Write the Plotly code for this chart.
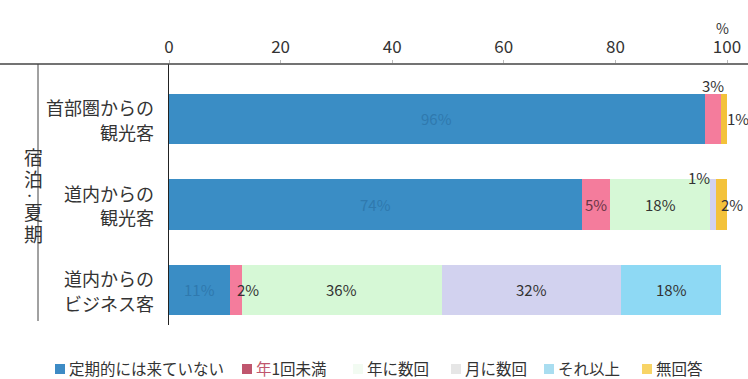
import plotly.graph_objects as go

# Survey: how often visitors come (stay, summer season)
categories = ["首部圏からの観光客", "道内からの観光客", "道内からのビジネス客"]
cat_lines = [["首部圏からの", "観光客"], ["道内からの", "観光客"], ["道内からの", "ビジネス客"]]
series_names = ["定期的には来ていない", "年1回未満", "年に数回", "月に数回", "それ以上", "無回答"]
v_none = [96, 74, 11]
v_less_yearly = [3, 5, 2]
v_few_yearly = [0, 18, 36]
v_few_monthly = [0, 1, 32]
v_more = [0, 0, 18]
v_no_answer = [1, 2, 0]
x_ticks = [0, 20, 40, 60, 80, 100]
group_label = "宿泊・夏期"

values = [v_none, v_less_yearly, v_few_yearly, v_few_monthly, v_more, v_no_answer]
colors = ["#3a8dc5", "#f47c9c", "#d6f8d6", "#d2d2ef", "#8ed9f4", "#f3c23a"]
legend_colors = ["#3d8bc5", "#c0566e", "#f2fbf2", "#e6e6e6", "#a9ddf0", "#f8d466"]

FONT = "Noto Sans CJK JP"
W, H = 748, 379
ML, MR, MT, MB = 169, 21, 64, 54
PW, PH = W - ML - MR, H - MT - MB


def px_x(p):
    return (p - ML) / PW


def px_y(p):
    return (H - MB - p) / PH


fig = go.Figure()
for name, vals, col in zip(series_names, values, colors):
    fig.add_trace(go.Bar(
        y=categories, x=vals, name=name, orientation="h",
        marker=dict(color=col, line=dict(width=0)),
        width=0.59, showlegend=False,
    ))

ann = []


def seg_start(ci, si):
    return sum(values[k][ci] for k in range(si))


label_style = dict(size=15, color="#333333", family=FONT)
hidden_style = dict(size=15, color="#2f79ae", family=FONT)
for ci, cat in enumerate(categories):
    for si in range(len(series_names)):
        v = values[si][ci]
        if v < 5:
            continue
        mid = seg_start(ci, si) + v / 2
        txt = f"{v}%"
        if si == 0:
            ann.append(dict(x=mid, y=cat, text=txt, showarrow=False, font=hidden_style))
        else:
            ann.append(dict(x=mid, y=cat, text=txt, showarrow=False,
                            font=dict(size=15, color="#6a3545" if si == 1 else "#333333", family=FONT)))

# small segments labelled outside
ann.append(dict(x=seg_start(0, 1) + v_less_yearly[0] / 2, y=0, yshift=33, text=f"{v_less_yearly[0]}%",
                showarrow=False, font=label_style))
ann.append(dict(x=100, y=0, xanchor="left", xshift=-2, text=f"{v_no_answer[0]}%",
                showarrow=False, font=label_style))
ann.append(dict(x=seg_start(1, 3), y=1, yshift=27, xanchor="right", xshift=2, text=f"{v_few_monthly[1]}%",
                showarrow=False, font=label_style))
ann.append(dict(x=100, y=1, xanchor="left", xshift=-8, text=f"{v_no_answer[1]}%",
                showarrow=False, font=label_style))
ann.append(dict(x=seg_start(2, 1), y=2, xanchor="left", xshift=5, text=f"{v_less_yearly[2]}%",
                showarrow=False, font=label_style))

# category labels, two right-aligned lines each
for ci, lines in enumerate(cat_lines):
    for k, off in enumerate((-0.135, 0.148)):
        ann.append(dict(x=px_x(156), xref="paper", y=ci + off, yref="y", text=lines[k],
                        xanchor="right", yanchor="middle", showarrow=False,
                        font=dict(size=18, color="#333333", family=FONT)))

# group label, written vertically one character at a time
for ch, cy in zip(group_label, (156, 178, 195, 211, 233)):
    ann.append(dict(x=px_x(22), xref="paper", y=px_y(cy), yref="paper", text=ch,
                    showarrow=False, yanchor="middle",
                    font=dict(size=19 if ch != "・" else 11, color="#333333", family=FONT)))

# unit label
ann.append(dict(x=px_x(731), xref="paper", y=px_y(28), yref="paper", text="%", yanchor="middle",
                showarrow=False, font=dict(size=14, color="#333333", family=FONT)))

# legend
legend_x = [55, 242, 353, 451, 544, 642]
legend_texts = [series_names[0], "<span style='color:#c0566e'>年</span>1回未満"] + series_names[2:]
shapes = []
ly = 368
for lx, txt, col in zip(legend_x, legend_texts, legend_colors):
    shapes.append(dict(type="rect", xref="paper", yref="paper",
                       x0=px_x(lx), x1=px_x(lx + 10), y0=px_y(ly + 6), y1=px_y(ly - 4),
                       fillcolor=col, line=dict(width=0)))
    ann.append(dict(x=px_x(lx + 12), xref="paper", y=px_y(ly), yref="paper", text=txt,
                    xanchor="left", yanchor="middle", showarrow=False,
                    font=dict(size=15.5, color="#333333", family=FONT)))

# top rule across the full width and group separator
shapes.append(dict(type="line", xref="paper", yref="paper", x0=px_x(0), x1=px_x(W), y0=1, y1=1,
                   line=dict(color="#444444", width=1.5)))
shapes.append(dict(type="line", xref="paper", yref="paper", x0=px_x(38), x1=px_x(38), y0=px_y(321), y1=1,
                   line=dict(color="#444444", width=1)))

fig.update_layout(
    width=W, height=H, barmode="stack",
    margin=dict(l=ML, r=MR, t=MT, b=MB, pad=0, autoexpand=False),
    paper_bgcolor="white", plot_bgcolor="white",
    font=dict(family=FONT, color="#333333"),
    xaxis=dict(side="top", range=[0, 100], tickvals=x_ticks, ticktext=[str(t) for t in x_ticks],
               showgrid=False, zeroline=False, showline=False, ticks="outside", ticklen=3,
               tickcolor="#bbbbbb", tickfont=dict(size=17, color="#333333", family=FONT),
               automargin=False, fixedrange=True),
    yaxis=dict(range=[2.41, -0.643], showticklabels=False, ticks="", showgrid=False, zeroline=False,
               showline=True, linecolor="#222222", linewidth=1.2, automargin=False, fixedrange=True),
    annotations=ann, shapes=shapes, bargap=0,
)

fig.write_html("out.html")
